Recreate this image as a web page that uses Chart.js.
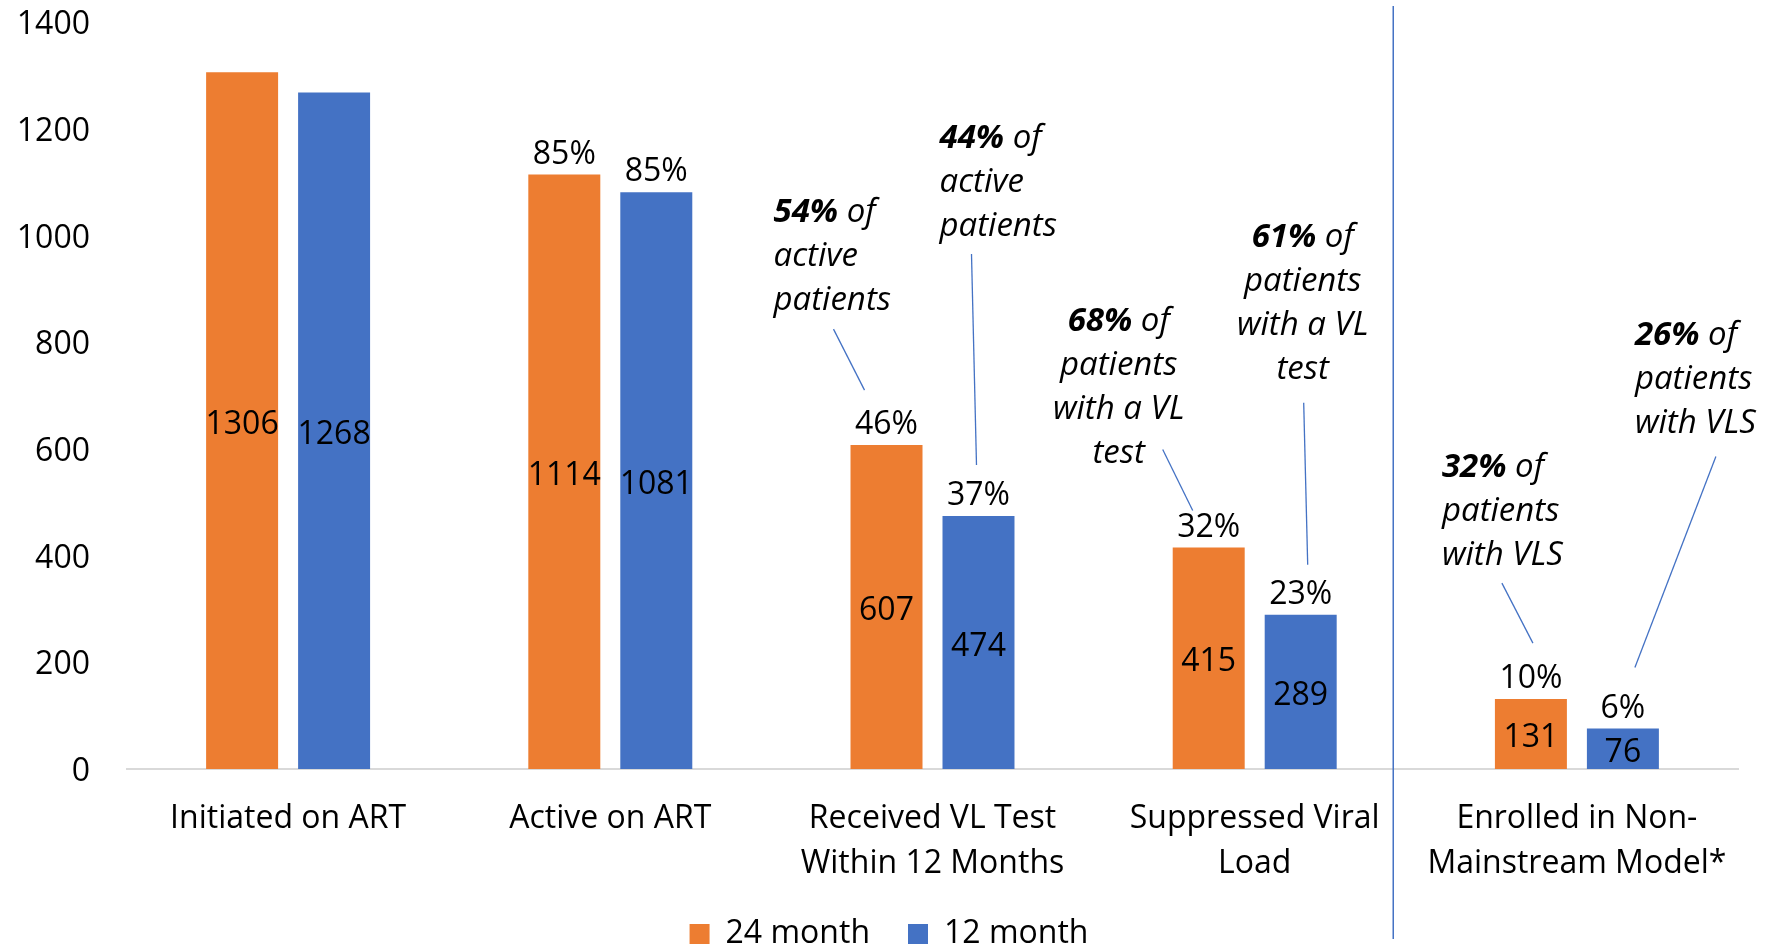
<!DOCTYPE html>
<html>
<head>
<meta charset="utf-8">
<script src="https://cdn.jsdelivr.net/npm/chart.js@4.4.0/dist/chart.umd.min.js"></script>
<style>
  html, body { margin: 0; padding: 0; background: #fff; overflow: hidden; }
  canvas { display: block; }
</style>
</head>
<body>
<canvas id="cascadeChart" width="1768" height="950"></canvas>
<script>
const categories = [
    ['Initiated on ART'],
    ['Active on ART'],
    ['Received VL Test', 'Within 12 Months'],
    ['Suppressed Viral', 'Load'],
    ['Enrolled in Non-', 'Mainstream Model*']
];
const month24 = [1306, 1114, 607, 415, 131];
const month12 = [1268, 1081, 474, 289, 76];
const pct24 = [null, '85%', '46%', '32%', '10%'];
const pct12 = [null, '85%', '37%', '23%', '6%'];
const yTicks = [0, 200, 400, 600, 800, 1000, 1200, 1400];

// callout texts: bold percentage, then the italic lines under it
const calloutPct = ['54%', '44%', '68%', '61%', '32%', '26%'];
const calloutLines = [
    ['active', 'patients'],
    ['active', 'patients'],
    ['patients', 'with a VL', 'test'],
    ['patients', 'with a VL', 'test'],
    ['patients', 'with VLS'],
    ['patients', 'with VLS']
];
// which bar each callout belongs to: [dataset, category]
const calloutBars = [[0, 2], [1, 2], [0, 3], [1, 3], [0, 4], [1, 4]];

// placement relative to the top centre of the bar (pixels)
const calloutLayout = [
    { align: 'left',   dx: -113, dy: -233, line: [-53, -116, -22, -55] },
    { align: 'left',   dx: -39,  dy: -377, line: [-7, -262, -2, -51] },
    { align: 'center', dx: -90,  dy: -226, line: [-46, -98, -16, -37] },
    { align: 'center', dx: 2,    dy: -377, line: [3, -212, 7, -50] },
    { align: 'left',   dx: -89,  dy: -232, line: [-29, -116, 2, -56] },
    { align: 'left',   dx: 12,   dy: -393, line: [93, -272, 12, -61] }
];

const FONT = '"Open Sans", sans-serif';
const BLUE = '#4472C4';
const ORANGE = '#ED7D31';

Chart.defaults.font.family = FONT;
Chart.defaults.color = '#000';

// value in the middle of each bar, percentage above it
const barLabels = {
    id: 'barLabels',
    afterDatasetsDraw(chart) {
        const ctx = chart.ctx;
        ctx.save();
        ctx.font = '32px ' + FONT;
        ctx.fillStyle = '#000';
        ctx.textAlign = 'center';
        ctx.textBaseline = 'middle';
        [pct24, pct12].forEach((pcts, d) => {
            chart.getDatasetMeta(d).data.forEach((bar, i) => {
                const value = chart.data.datasets[d].data[i];
                ctx.fillText(String(value), bar.x, (bar.y + bar.base) / 2 + 4);
                if (pcts[i]) {
                    ctx.fillText(pcts[i], bar.x, bar.y - 20);
                }
            });
        });
        ctx.restore();
    }
};

const callouts = {
    id: 'callouts',
    afterDraw(chart) {
        const ctx = chart.ctx;
        const bold = 'italic bold 33px ' + FONT;
        const ital = 'italic 33px ' + FONT;
        ctx.save();
        calloutBars.forEach(([d, i], k) => {
            const bar = chart.getDatasetMeta(d).data[i];
            const lay = calloutLayout[k];
            const x0 = bar.x;
            const y0 = bar.y;

            ctx.strokeStyle = BLUE;
            ctx.lineWidth = 1.3;
            ctx.beginPath();
            ctx.moveTo(x0 + lay.line[0], y0 + lay.line[1]);
            ctx.lineTo(x0 + lay.line[2], y0 + lay.line[3]);
            ctx.stroke();

            ctx.fillStyle = '#000';
            ctx.textAlign = 'left';
            ctx.textBaseline = 'middle';
            const lines = [[calloutPct[k], ' of']].concat(calloutLines[k].map(t => ['', t]));
            lines.forEach(([b, t], n) => {
                ctx.font = bold;
                const bw = b ? ctx.measureText(b).width : 0;
                ctx.font = ital;
                const tw = ctx.measureText(t).width;
                let x = x0 + lay.dx;
                if (lay.align === 'center') {
                    x -= (bw + tw) / 2;
                }
                const y = y0 + lay.dy + n * 44;
                if (b) {
                    ctx.font = bold;
                    ctx.fillText(b, x, y);
                }
                ctx.font = ital;
                ctx.fillText(t, x + bw, y);
            });
        });
        ctx.restore();
    }
};

// thin blue divider before the last category, legend nudged right
const divider = {
    id: 'divider',
    afterLayout(chart) {
        chart.legend.left += 20;
        chart.legend.right += 20;
    },
    afterDraw(chart) {
        const ctx = chart.ctx;
        const x = chart.scales.x.getPixelForValue(3.43);
        ctx.save();
        ctx.strokeStyle = BLUE;
        ctx.lineWidth = 1.5;
        ctx.beginPath();
        ctx.moveTo(x, 6);
        ctx.lineTo(x, 939);
        ctx.stroke();
        ctx.restore();
    }
};

const cascadeCtx = document.getElementById('cascadeChart');
new Chart(cascadeCtx.getContext('2d'), {
    type: 'bar',
    data: {
        labels: categories,
        datasets: [{
            label: '24 month',
            data: month24,
            backgroundColor: ORANGE,
            categoryPercentage: 0.571,
            barPercentage: 0.7826
        }, {
            label: '12 month',
            data: month12,
            backgroundColor: BLUE,
            categoryPercentage: 0.571,
            barPercentage: 0.7826
        }]
    },
    options: {
        responsive: false,
        animation: false,
        layout: {
            padding: { top: 22, right: 30, bottom: -10, left: 0 }
        },
        plugins: {
            legend: {
                position: 'bottom',
                labels: {
                    boxWidth: 20,
                    boxHeight: 20,
                    padding: 38,
                    color: '#000',
                    font: { size: 32 }
                }
            },
            tooltip: { enabled: false }
        },
        scales: {
            x: {
                grid: { display: false, drawTicks: false },
                border: { display: true, color: '#d9d9d9', width: 2 },
                ticks: {
                    color: '#000',
                    padding: 27,
                    maxRotation: 0,
                    autoSkip: false,
                    font: { size: 32, lineHeight: 1.42 }
                },
                afterFit(scale) {
                    scale.height = 111;
                }
            },
            y: {
                min: 0,
                max: 1400,
                grid: { display: false, drawTicks: true, tickLength: 37 },
                border: { display: false },
                ticks: {
                    color: '#000',
                    padding: 0,
                    labelOffset: 3,
                    font: { size: 32 },
                    callback: v => String(v)
                },
                afterBuildTicks(scale) {
                    scale.ticks = yTicks.map(v => ({ value: v }));
                },
                afterFit(scale) {
                    scale.width = 127;
                }
            }
        }
    },
    plugins: [barLabels, callouts, divider]
});
</script>
</body>
</html>
